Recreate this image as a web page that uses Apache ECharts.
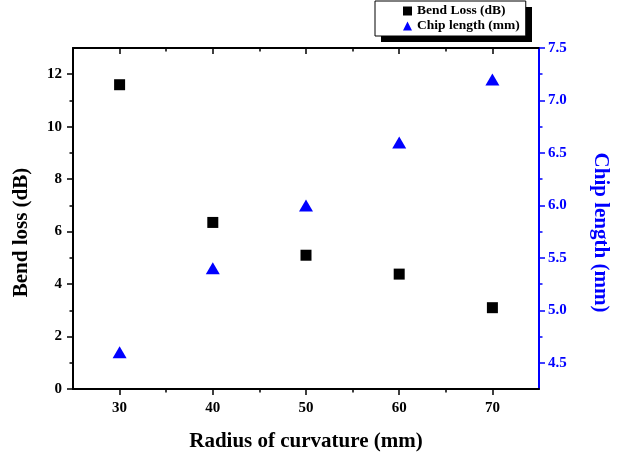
<!DOCTYPE html>
<html><head><meta charset="utf-8">
<script src="https://cdn.jsdelivr.net/npm/echarts@6/dist/echarts.min.js"></script>
<style>html,body{margin:0;padding:0;background:#fff}#c{width:624px;height:459px}</style>
</head><body><div id="c"></div>
<script>
const radius = [30, 40, 50, 60, 70];
const bendLoss = [11.6, 6.35, 5.1, 4.38, 3.1];
const chipLength = [4.6, 5.4, 6.0, 6.6, 7.2];
const xMajorTicks = [30, 40, 50, 60, 70];
const xMinorTicks = [35, 45, 55, 65];
const leftMajorTicks = [0, 2, 4, 6, 8, 10, 12];
const leftMinorTicks = [1, 3, 5, 7, 9, 11];
const rightMajorTicks = [4.5, 5.0, 5.5, 6.0, 6.5, 7.0, 7.5];
const rightMinorTicks = [4.75, 5.25, 5.75, 6.25, 6.75, 7.25];

const FONT = '"Liberation Serif", "Times New Roman", serif';
const BLUE = '#0000ff';
const chart = echarts.init(document.getElementById('c'), null, {renderer: 'canvas'});

function axisBase(pos, min, max, color) {
  return {
    type: 'value', position: pos, min: min, max: max,
    splitLine: {show: false},
    axisLine: {show: true, onZero: false, lineStyle: {color: color, width: 2}},
    axisLabel: {show: false},
    axisTick: {show: false}
  };
}
function major(pos, min, max, color, ticks, inside, labels, margin, fmt) {
  const a = axisBase(pos, min, max, color);
  a.axisTick = {show: true, inside: inside, length: 6, customValues: ticks, lineStyle: {color: color, width: 1.5}};
  if (labels) {
    a.axisLabel = {show: true, customValues: ticks, color: color, fontFamily: FONT, fontWeight: 'bold', fontSize: 15, margin: margin,
      formatter: fmt || (v => String(v))};
  }
  return a;
}
function minor(pos, min, max, color, ticks, inside) {
  const a = axisBase(pos, min, max, color);
  a.axisLine.show = false;
  a.axisTick = {show: true, inside: inside, length: 3.5, customValues: ticks, lineStyle: {color: color, width: 1.5}};
  return a;
}

const x0 = major('bottom', 25, 75, '#000', xMajorTicks, false, true, 12);
x0.name = 'Radius of curvature (mm)';
x0.nameLocation = 'middle';
x0.nameGap = 42;
x0.nameTextStyle = {fontFamily: FONT, fontWeight: 'bold', fontSize: 21, color: '#000'};

const y0 = major('left', 0, 13, '#000', leftMajorTicks, false, true, 11);
y0.name = 'Bend loss (dB)';
y0.nameLocation = 'middle';
y0.nameGap = 41;
y0.nameTextStyle = {fontFamily: FONT, fontWeight: 'bold', fontSize: 21, color: '#000', padding: [0, 28, 0, 0]};

const y2 = major('right', 4.25, 7.5, BLUE, rightMajorTicks, false, true, 9, v => v.toFixed(1));
y2.name = 'Chip length (mm)';
y2.nameLocation = 'middle';
y2.nameRotate = -90;
y2.nameGap = 51;
y2.nameTextStyle = {fontFamily: FONT, fontWeight: 'bold', fontSize: 21, color: BLUE, padding: [0, 0, 0, 28]};

const option = {
  backgroundColor: '#fff',
  animation: false,
  grid: {left: 73, right: 85, top: 48, bottom: 70, containLabel: false},
  graphic: [{
    type: 'rect', left: 381, top: 7, z: 0, zlevel: 0,
    shape: {width: 151, height: 35},
    style: {fill: '#000'}
  }],
  legend: {
    orient: 'vertical', left: 375, top: 1, z: 10,
    padding: [3, 6, 3, 28], itemGap: 1, itemWidth: 9, itemHeight: 9,
    backgroundColor: '#fff', borderColor: '#000', borderWidth: 1, borderRadius: 0,
    textStyle: {fontFamily: FONT, fontWeight: 'bold', fontSize: 13.5, color: '#000'},
    data: [{name: 'Bend Loss (dB)', icon: 'rect'}, {name: 'Chip length (mm)', icon: 'triangle'}]
  },
  xAxis: [
    x0,
    minor('bottom', 25, 75, '#000', xMinorTicks, false),
    major('top', 25, 75, '#000', xMajorTicks, true, false),
    minor('top', 25, 75, '#000', xMinorTicks, true)
  ],
  yAxis: [
    y0,
    minor('left', 0, 13, '#000', leftMinorTicks, false),
    y2,
    minor('right', 4.25, 7.5, BLUE, rightMinorTicks, false)
  ],
  series: [
    {name: 'Bend Loss (dB)', type: 'scatter', xAxisIndex: 0, yAxisIndex: 0, symbol: 'rect', symbolSize: 11,
      itemStyle: {color: '#000', opacity: 1}, data: radius.map((r, i) => [r, bendLoss[i]])},
    {name: 'Chip length (mm)', type: 'scatter', xAxisIndex: 0, yAxisIndex: 2, symbol: 'triangle', symbolSize: [14, 12],
      itemStyle: {color: BLUE, opacity: 1}, data: radius.map((r, i) => [r, chipLength[i]])}
  ]
};
chart.setOption(option);
</script></body></html>
